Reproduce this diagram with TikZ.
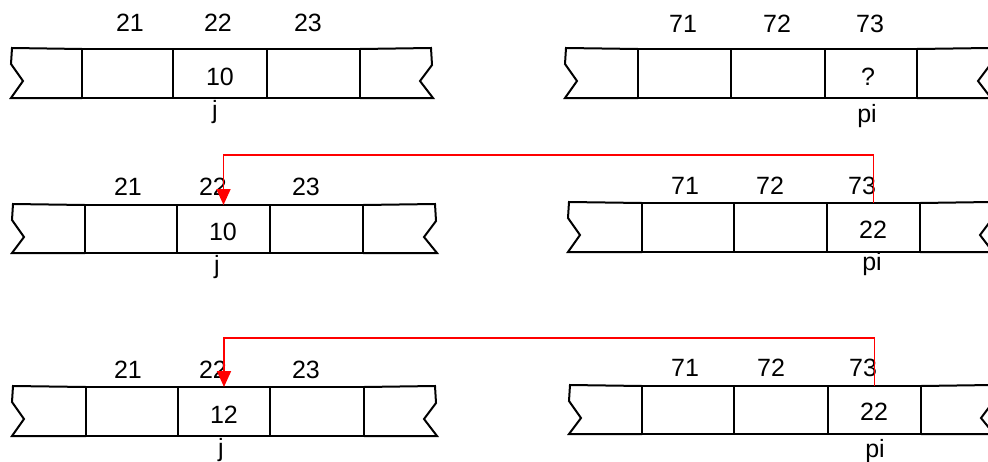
\documentclass[tikz,border=0pt]{standalone}
\usepackage{fontspec}
\setmainfont{Liberation Sans}
\usetikzlibrary{arrows.meta}
\tikzset{
  tape/.style={draw=black, line width=2pt, line join=miter},
  cellbox/.style={draw=black, line width=2pt, inner sep=0pt, outer sep=0pt},
  lbl/.style={font=\fontsize{25}{29}\selectfont, inner sep=0pt, anchor=base},
  link/.style={draw=red, line width=1.8pt, -{Triangle[width=14pt,length=16pt]}},
}
% #1 name, #2 top, #3 bottom, #4 left end x, #5..#8 cell borders, #9 right end x
\newcommand\tapeRow[9]{%
  \node[cellbox, minimum width={(#6-#5)*1pt}, minimum height={(#3-#2)*1pt}] (#11) at ({(#5+#6)/2},{(#2+#3)/2}) {};
  \node[cellbox, minimum width={(#7-#6)*1pt}, minimum height={(#3-#2)*1pt}] (#12) at ({(#6+#7)/2},{(#2+#3)/2}) {};
  \node[cellbox, minimum width={(#8-#7)*1pt}, minimum height={(#3-#2)*1pt}] (#13) at ({(#7+#8)/2},{(#2+#3)/2}) {};
  \draw[tape] (#11.north west) -- (#4,#2-1) -- (#4-1,#2+15) -- (#4+11,#2+32) -- (#4-1,#3) -- (#11.south west);
  \draw[tape] (#13.north east) -- (#9,#2-1) -- (#9+1,#2+16) -- (#9-11,#2+32) -- (#9+2,#3) -- (#13.south east);
}
\begin{document}
\begin{tikzpicture}[x=1pt,y=-1pt]
\useasboundingbox (0,0) rectangle (988,461);
\clip (0,0) rectangle (988,461);
\fill[white] (0,0) rectangle (988,461);

% row 1
\tapeRow{a}{49}{98}{12}{82}{173}{267}{360}{431}
\node[lbl] (a21) at (130,31) {21};
\node[lbl] (a22) at (218,31) {22};
\node[lbl] (a23) at (308,31) {23};
\node[lbl] (aval) at (220,85) {10};
\node[lbl] (aj) at (215,118) {j};

\tapeRow{b}{49}{98}{566}{638}{731}{825}{917}{989}
\node[lbl] (b71) at (683,32) {71};
\node[lbl] (b72) at (777,32) {72};
\node[lbl] (b73) at (870,32) {73};
\node[lbl] (bval) at (868,85) {?};
\node[lbl] (bpi) at (867,122) {pi};

% row 2
\tapeRow{c}{205}{253}{13}{85}{177}{270}{363}{435}
\node[lbl] (c21) at (128,195) {21};
\node[lbl] (c22) at (213,195) {22};
\node[lbl] (c23) at (306,195) {23};
\node[lbl] (cval) at (223,240) {10};
\node[lbl] (cj) at (217,273) {j};

\tapeRow{d}{203}{252}{569}{642}{734}{827}{920}{991}
\node[lbl] (d71) at (685,194) {71};
\node[lbl] (d72) at (770,194) {72};
\node[lbl] (d73) at (862,194) {73};
\node[lbl] (dval) at (873,238) {22};
\node[lbl] (dpi) at (872,270) {pi};

% row 3
\tapeRow{e}{387}{436}{13}{86}{178}{270}{364}{435}
\node[lbl] (e21) at (128,378) {21};
\node[lbl] (e22) at (213,378) {22};
\node[lbl] (e23) at (306,378) {23};
\node[lbl] (eval) at (224,423) {12};
\node[lbl] (ej) at (221,456) {j};

\tapeRow{f}{386}{434}{570}{642}{734}{828}{921}{992}
\node[lbl] (f71) at (685,376) {71};
\node[lbl] (f72) at (771,376) {72};
\node[lbl] (f73) at (863,376) {73};
\node[lbl] (fval) at (874,420) {22};
\node[lbl] (fpi) at (875,457) {pi};

% connectors
\draw[link] (d3.north) -- ++(0,-48) -| (c2.north);
\draw[link] (f3.north) -- ++(0,-48) -| (e2.north);
\end{tikzpicture}
\end{document}
